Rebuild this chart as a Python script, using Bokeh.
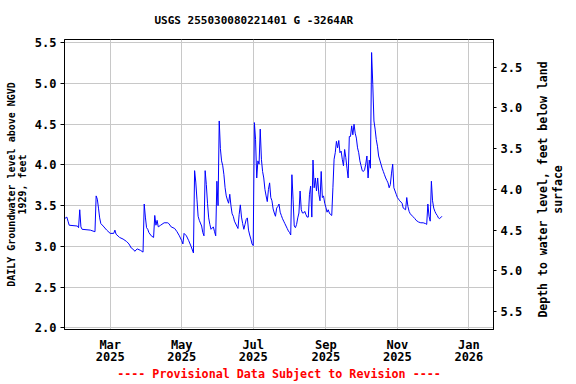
import math
import pandas as pd
from bokeh.plotting import figure
from bokeh.models import Range1d, LinearAxis, FixedTicker, NumeralTickFormatter, Label
from bokeh.embed import file_html
from bokeh.resources import INLINE

title_text = "USGS 255030080221401 G  -3264AR"
left_label = "DAILY Groundwater level above NGVD\n1929, feet"
right_label = "Depth to water level, feet below land\nsurface"
footer_text = "---- Provisional Data Subject to Revision ----"

dates = [
    # Jan
    "2025-01-21", "2025-01-23", "2025-01-24", "2025-01-25",
    # Feb
    "2025-02-01", "2025-02-02", "2025-02-03", "2025-02-04", "2025-02-05", "2025-02-12",
    "2025-02-16", "2025-02-17", "2025-02-18", "2025-02-19", "2025-02-20", "2025-02-21",
    "2025-02-23", "2025-02-26",
    # Mar
    "2025-03-01", "2025-03-04", "2025-03-05", "2025-03-06", "2025-03-09", "2025-03-12",
    "2025-03-15", "2025-03-17", "2025-03-19", "2025-03-21", "2025-03-22", "2025-03-24",
    "2025-03-27", "2025-03-29", "2025-03-30", "2025-03-31",
    # Apr
    "2025-04-01", "2025-04-02", "2025-04-03", "2025-04-05", "2025-04-07", "2025-04-08",
    "2025-04-09", "2025-04-10", "2025-04-11", "2025-04-13", "2025-04-16", "2025-04-19",
    "2025-04-20", "2025-04-22", "2025-04-25", "2025-04-27", "2025-04-29",
    # May
    "2025-05-01", "2025-05-02", "2025-05-03", "2025-05-05", "2025-05-07", "2025-05-09",
    "2025-05-11", "2025-05-12", "2025-05-13", "2025-05-14", "2025-05-15", "2025-05-16",
    "2025-05-18", "2025-05-19", "2025-05-20", "2025-05-21", "2025-05-22", "2025-05-23",
    "2025-05-24", "2025-05-25", "2025-05-26", "2025-05-28", "2025-05-29", "2025-05-30",
    "2025-05-31",
    # Jun
    "2025-06-01", "2025-06-02", "2025-06-03", "2025-06-04", "2025-06-05", "2025-06-06",
    "2025-06-07", "2025-06-08", "2025-06-09", "2025-06-10", "2025-06-11", "2025-06-12",
    "2025-06-13", "2025-06-14", "2025-06-15", "2025-06-17", "2025-06-18", "2025-06-19",
    "2025-06-20", "2025-06-21", "2025-06-22", "2025-06-23", "2025-06-24", "2025-06-25",
    "2025-06-26", "2025-06-27", "2025-06-28", "2025-06-29", "2025-06-30",
    # Jul
    "2025-07-01", "2025-07-02", "2025-07-03", "2025-07-04", "2025-07-05", "2025-07-06",
    "2025-07-07", "2025-07-08", "2025-07-09", "2025-07-10", "2025-07-11", "2025-07-12",
    "2025-07-13", "2025-07-14", "2025-07-15", "2025-07-16", "2025-07-17", "2025-07-18",
    "2025-07-19", "2025-07-20", "2025-07-21", "2025-07-22", "2025-07-23", "2025-07-24",
    "2025-07-25", "2025-07-26", "2025-07-27", "2025-07-28", "2025-07-29", "2025-07-30",
    "2025-07-31",
    # Aug
    "2025-08-01", "2025-08-02", "2025-08-03", "2025-08-04", "2025-08-05", "2025-08-06",
    "2025-08-07", "2025-08-08", "2025-08-09", "2025-08-10", "2025-08-11", "2025-08-12",
    "2025-08-13", "2025-08-14", "2025-08-15", "2025-08-16", "2025-08-17", "2025-08-18",
    "2025-08-19", "2025-08-20", "2025-08-21", "2025-08-22", "2025-08-23", "2025-08-24",
    "2025-08-25", "2025-08-26", "2025-08-27", "2025-08-28", "2025-08-29", "2025-08-30",
    "2025-08-31",
    # Sep
    "2025-09-01", "2025-09-02", "2025-09-03", "2025-09-04", "2025-09-05", "2025-09-06",
    "2025-09-07", "2025-09-08", "2025-09-09", "2025-09-10", "2025-09-11", "2025-09-12",
    "2025-09-13", "2025-09-14", "2025-09-15", "2025-09-16", "2025-09-17", "2025-09-18",
    "2025-09-19", "2025-09-20", "2025-09-21", "2025-09-22", "2025-09-23", "2025-09-24",
    "2025-09-25", "2025-09-26", "2025-09-27", "2025-09-28", "2025-09-29", "2025-09-30",
    # Oct
    "2025-10-01", "2025-10-02", "2025-10-03", "2025-10-04", "2025-10-05", "2025-10-06",
    "2025-10-07", "2025-10-08", "2025-10-09", "2025-10-10", "2025-10-11", "2025-10-12",
    "2025-10-13", "2025-10-14", "2025-10-15", "2025-10-16", "2025-10-17", "2025-10-18",
    "2025-10-19", "2025-10-20", "2025-10-21", "2025-10-22", "2025-10-23", "2025-10-24",
    "2025-10-25", "2025-10-26", "2025-10-27", "2025-10-28", "2025-10-29", "2025-10-30",
    "2025-10-31",
    # Nov
    "2025-11-01", "2025-11-02", "2025-11-03", "2025-11-05", "2025-11-06", "2025-11-08",
    "2025-11-09", "2025-11-10", "2025-11-11", "2025-11-12", "2025-11-14", "2025-11-16",
    "2025-11-17", "2025-11-19", "2025-11-21", "2025-11-23", "2025-11-25", "2025-11-26",
    "2025-11-27", "2025-11-28", "2025-11-29", "2025-11-30",
    # Dec
    "2025-12-01", "2025-12-02", "2025-12-03", "2025-12-04", "2025-12-05", "2025-12-06",
    "2025-12-07", "2025-12-09",
]

levels = [
    # Jan
    3.34, 3.36, 3.31, 3.26,
    # Feb
    3.25, 3.23, 3.45, 3.24, 3.21, 3.20, 3.18, 3.62, 3.58, 3.47, 3.35, 3.28, 3.25, 3.20,
    # Mar
    3.16, 3.16, 3.20, 3.15, 3.11, 3.09, 3.06, 3.03, 2.98, 2.96, 2.94, 2.97, 2.95, 2.93,
    3.52, 3.36,
    # Apr
    3.23, 3.21, 3.17, 3.13, 3.11, 3.38, 3.26, 3.32, 3.24, 3.26, 3.29, 3.29, 3.28, 3.24,
    3.22, 3.18, 3.13,
    # May
    3.07, 3.03, 3.16, 3.13, 3.07, 3.00, 2.92, 3.93, 3.79, 3.58, 3.37, 3.32, 3.25, 3.17,
    3.13, 3.93, 3.76, 3.53, 3.35, 3.27, 3.21, 3.24, 3.18, 3.13, 3.80,
    # Jun
    3.50, 4.54, 4.20, 4.05, 3.99, 3.88, 3.72, 3.62, 3.57, 3.53, 3.64, 3.50, 3.40, 3.37,
    3.31, 3.25, 3.22, 3.39, 3.51, 3.36, 3.28, 3.21, 3.27, 3.33, 3.35, 3.20, 3.14, 3.09,
    3.03,
    # Jul
    3.01, 4.52, 4.31, 3.84, 4.05, 4.01, 4.44, 4.07, 3.92, 3.84, 3.70, 3.62, 3.55, 3.70,
    3.78, 3.60, 3.56, 3.46, 3.41, 3.37, 3.47, 3.49, 3.52, 3.42, 3.38, 3.34, 3.31, 3.28,
    3.25, 3.22, 3.19,
    # Aug
    3.17, 3.14, 3.88, 3.58, 3.25, 3.23, 3.27, 3.35, 3.41, 3.68, 3.45, 3.41, 3.41, 3.43,
    3.39, 3.36, 3.36, 3.64, 3.74, 3.36, 4.06, 3.72, 3.84, 3.68, 3.84, 3.64, 3.56, 3.92,
    3.60, 3.62, 3.53,
    # Sep
    3.48, 3.42, 3.45, 3.41, 3.39, 3.38, 3.72, 4.07, 4.15, 4.29, 4.21, 4.30, 4.15, 4.17,
    4.07, 3.99, 4.19, 4.09, 3.96, 3.84, 4.35, 4.35, 4.48, 4.37, 4.50, 4.39, 4.33, 4.21,
    4.15, 4.05,
    # Oct
    3.99, 3.93, 3.92, 3.94, 4.01, 4.11, 3.84, 4.06, 3.96, 5.38, 4.99, 4.54, 4.44, 4.31,
    4.23, 4.11, 4.06, 4.01, 3.96, 3.92, 3.88, 3.84, 3.81, 3.78, 3.72, 3.76, 3.90, 4.01,
    3.72, 3.68, 3.64,
    # Nov
    3.60, 3.58, 3.56, 3.53, 3.47, 3.45, 3.60, 3.49, 3.43, 3.40, 3.37, 3.34, 3.32, 3.30,
    3.29, 3.29, 3.28, 3.27, 3.52, 3.37, 3.31, 3.80,
    # Dec
    3.56, 3.47, 3.43, 3.40, 3.38, 3.35, 3.34, 3.37,
]

tick_dates = ["2025-03-01", "2025-05-01", "2025-07-01", "2025-09-01", "2025-11-01", "2026-01-01"]
tick_labels = ["Mar\n2025", "May\n2025", "Jul\n2025", "Sep\n2025", "Nov\n2025", "Jan\n2026"]
left_ticks = [2.0, 2.5, 3.0, 3.5, 4.0, 4.5, 5.0, 5.5]
right_ticks = [2.5, 3.0, 3.5, 4.0, 4.5, 5.0, 5.5]
x_start, x_end = "2025-01-21", "2026-01-22"
y_start, y_end = 1.98, 5.54
land_surface = 7.70

assert len(dates) == len(levels)

FONT = "DejaVu Sans Mono"

p = figure(
    width=576, height=384,
    x_axis_type="datetime",
    x_range=Range1d(pd.Timestamp(x_start), pd.Timestamp(x_end)),
    y_range=Range1d(y_start, y_end),
    output_backend="svg", toolbar_location=None,
    min_border_left=64, min_border_right=83, min_border_top=39, min_border_bottom=55,
    title=None,
)
p.background_fill_color = "white"
p.border_fill_color = "white"
p.outline_line_color = "black"
p.outline_line_width = 1
p.outline_line_alpha = 1.0

p.line(x=pd.to_datetime(dates), y=levels, line_color="#0000ff", line_width=1)

tick_ms = [float(pd.Timestamp(d).value // 10**6) for d in tick_dates]
xa = p.xaxis[0]
xa.ticker = FixedTicker(ticks=tick_ms, minor_ticks=[])
xa.major_label_overrides = {t: lab for t, lab in zip(tick_ms, tick_labels)}
xa.major_tick_out = 0
xa.major_tick_in = 0
xa.minor_tick_out = 0
xa.minor_tick_in = 0
xa.major_label_standoff = 8
xa.major_label_text_line_height = 0.9

ya = p.yaxis[0]
ya.ticker = FixedTicker(ticks=left_ticks, minor_ticks=[])
ya.formatter = NumeralTickFormatter(format="0.0")
ya.axis_label = left_label
ya.major_tick_out = 4
ya.major_tick_in = 0
ya.minor_tick_out = 0
ya.minor_tick_in = 0
ya.major_label_standoff = 4
ya.axis_label_standoff = 4
ya.axis_label_text_font = FONT
ya.axis_label_text_font_size = "10px"
ya.axis_label_text_font_style = "bold"
ya.axis_label_text_line_height = 1.0

p.extra_y_ranges = {"depth": Range1d(start=land_surface - y_start, end=land_surface - y_end)}
ra = LinearAxis(
    y_range_name="depth",
    ticker=FixedTicker(ticks=right_ticks, minor_ticks=[]),
    formatter=NumeralTickFormatter(format="0.0"),
)
ra.major_tick_out = 3
ra.major_tick_in = 0
ra.minor_tick_out = 0
ra.minor_tick_in = 0
ra.major_label_standoff = 4
p.add_layout(ra, "right")

for ax in [xa, ya, ra]:
    ax.axis_line_color = "black"
    ax.major_tick_line_color = "black"
    ax.major_label_text_font = FONT
    ax.major_label_text_font_size = "12px"
    ax.major_label_text_font_style = "bold"
    ax.major_label_text_color = "black"
    ax.axis_label_text_color = "black"

p.xgrid.ticker = FixedTicker(ticks=tick_ms, minor_ticks=[])
p.ygrid.ticker = FixedTicker(ticks=left_ticks, minor_ticks=[])
p.grid.grid_line_color = "#c8c8c8"
p.grid.grid_line_width = 1

# Chart title, in its own panel above the frame
header = Label(
    x=90, y=19, x_units="screen", y_units="screen",
    text=title_text, text_align="left", text_baseline="middle",
    text_font=FONT, text_font_size="11px", text_font_style="bold",
    text_color="black",
)
p.add_layout(header, "above")

# Right-hand axis title, in its own side panel (reads bottom-to-top)
right_title = Label(
    x=25, y=140, x_units="screen", y_units="screen", angle=math.pi / 2,
    text=right_label, text_align="center", text_baseline="middle",
    text_font=FONT, text_font_size="11.5px", text_font_style="bold",
    text_color="black", text_line_height=1.05,
)
p.add_layout(right_title, "right")

# Provisional-data footer, in its own panel below the date axis
footer = Label(
    x=214.5, y=1, x_units="screen", y_units="screen",
    text=footer_text, text_align="center", text_baseline="bottom",
    text_font=FONT, text_font_size="11.7px", text_font_style="bold",
    text_color="#ff0000",
)
p.add_layout(footer, "below")

open("out.html", "w").write(file_html(p, INLINE))
